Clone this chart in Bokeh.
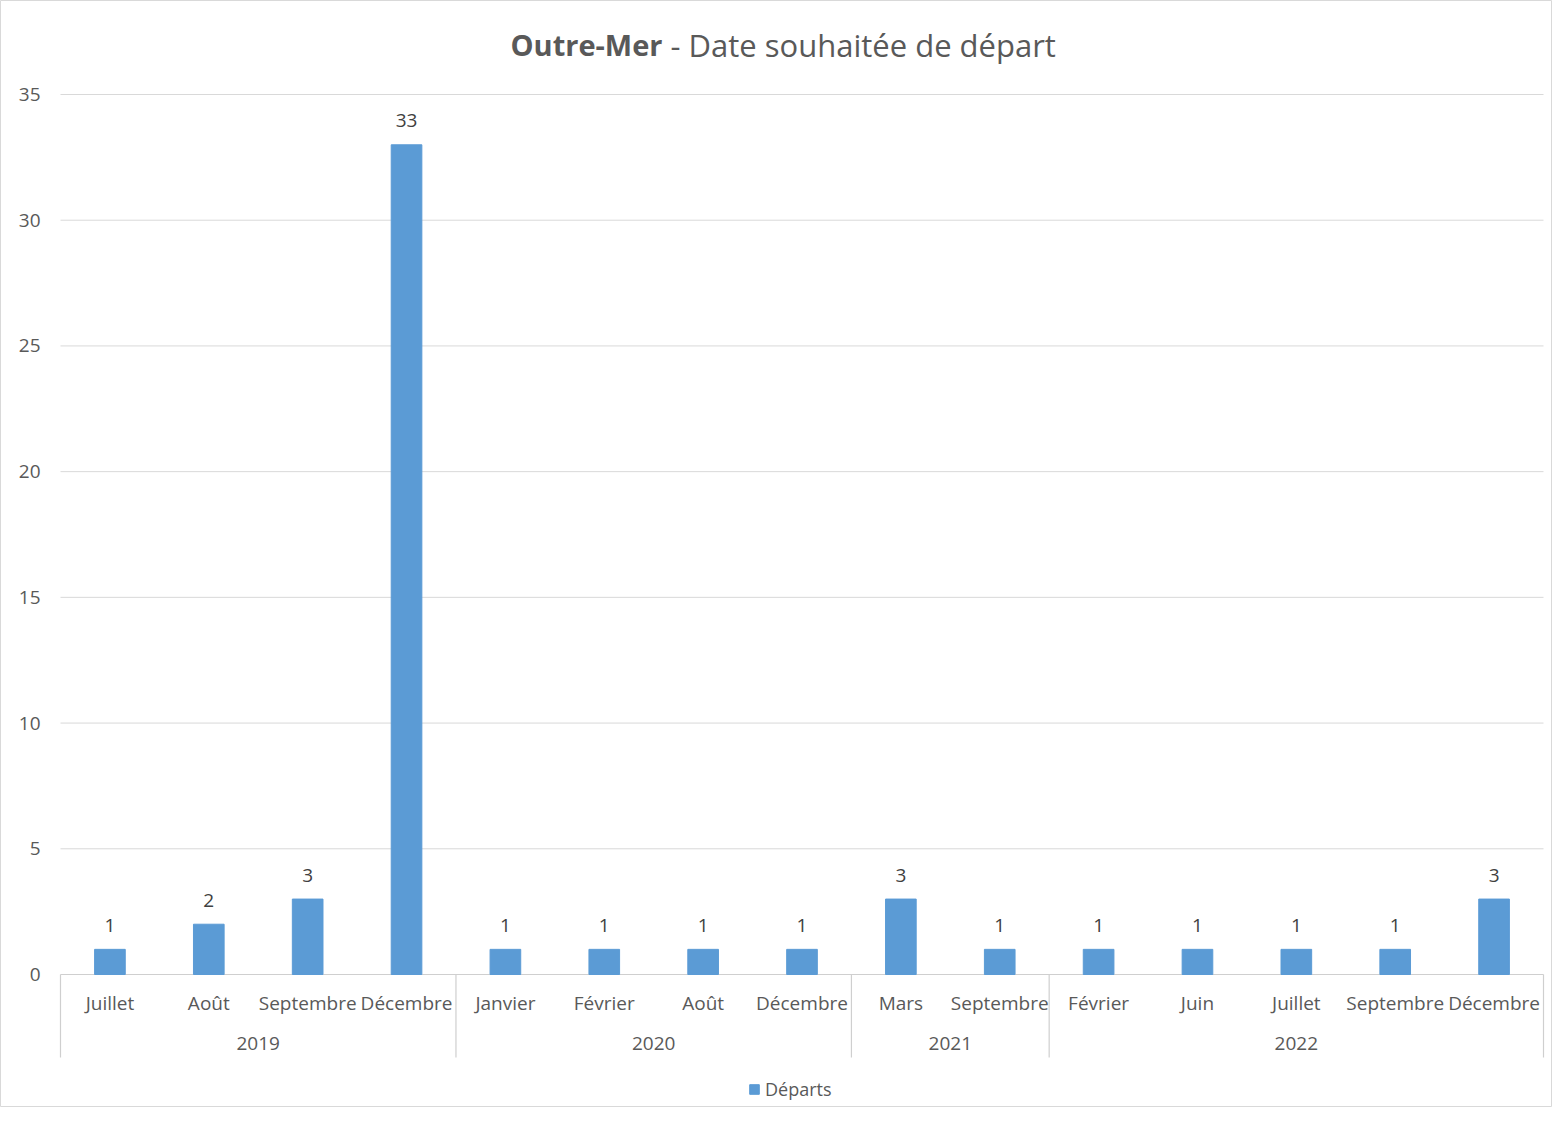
from bokeh.plotting import figure
from bokeh.models import Range1d, Legend, LegendItem, ColumnDataSource
from bokeh.core.properties import value
from bokeh.embed import file_html
from bokeh.resources import INLINE

# ---- data ----
years = ["2019", "2020", "2021", "2022"]
months_2019 = ["Juillet", "Août", "Septembre", "Décembre"]
months_2020 = ["Janvier", "Février", "Août", "Décembre"]
months_2021 = ["Mars", "Septembre"]
months_2022 = ["Février", "Juin", "Juillet", "Septembre", "Décembre"]
departs_2019 = [1, 2, 3, 33]
departs_2020 = [1, 1, 1, 1]
departs_2021 = [3, 1]
departs_2022 = [1, 1, 1, 1, 3]
y_ticks = [0, 5, 10, 15, 20, 25, 30, 35]
series_name = "Départs"

groups = [months_2019, months_2020, months_2021, months_2022]
vals_groups = [departs_2019, departs_2020, departs_2021, departs_2022]
months = [m for g in groups for m in g]
values = [v for g in vals_groups for v in g]
n = len(months)
xs = [i + 0.5 for i in range(n)]
bounds = [0]
for g in groups:
    bounds.append(bounds[-1] + len(g))
year_x = [(bounds[i] + bounds[i + 1]) / 2 for i in range(len(years))]

# ---- layout (pixels) ----
W, H = 1552, 1107
X0_PX = 60.0
CAT_PX = (1543.0 - 60.0) / n
Y0_PX = 974.0
UNIT_PX = (974.0 - 94.0) / 35.0

FONT = "Open Sans"
TXT = "#595959"
GRID = "#D9D9D9"
BAR = "#5B9BD5"
FS = "19px"

p = figure(width=W, height=H, output_backend="svg", toolbar_location=None,
           x_range=Range1d(-X0_PX / CAT_PX, (W - X0_PX) / CAT_PX),
           y_range=Range1d(-(H - Y0_PX) / UNIT_PX, Y0_PX / UNIT_PX),
           min_border=0)
p.xaxis.visible = False
p.yaxis.visible = False
p.xgrid.visible = False
p.ygrid.visible = False
p.outline_line_color = GRID
p.background_fill_color = "white"
p.border_fill_color = "white"

# gridlines
grid_y = [t for t in y_ticks if t > 0]
p.segment(x0=[0] * len(grid_y), x1=[n] * len(grid_y), y0=grid_y, y1=grid_y,
          line_color=GRID, line_width=1)
# axis line
p.segment(x0=[0], x1=[n], y0=[0], y1=[0], line_color="#CFCFCF", line_width=1.2)
# group separators
drop = 83.0 / UNIT_PX
p.segment(x0=bounds, x1=bounds, y0=[0] * len(bounds), y1=[-drop] * len(bounds),
          line_color="#CFCFCF", line_width=1.2)

# bars
src = ColumnDataSource(dict(x=xs, top=values, lab=[str(v) for v in values], month=months))
bars = p.vbar(x="x", top="top", width=0.31, source=src, fill_color=BAR, line_color=BAR)

# value labels
p.text(x="x", y="top", text="lab", source=src, text_align="center", text_baseline="middle",
       y_offset=-24, text_font=value(FONT), text_font_size=FS, text_color="#404040")

# category labels
p.text(x="x", y=0, text="month", source=src, text_align="center", text_baseline="middle",
       y_offset=28, text_font=value(FONT), text_font_size=FS, text_color=TXT)

# year labels
p.text(x=year_x, y=[0] * len(years), text=years, text_align="center", text_baseline="middle",
       y_offset=69, text_font=value(FONT), text_font_size=FS, text_color=TXT)

# y tick labels
p.text(x=[0] * len(y_ticks), y=y_ticks, text=[str(t) for t in y_ticks], text_align="right",
       text_baseline="middle", x_offset=-20, text_font=value(FONT), text_font_size=FS,
       text_color=TXT)

# title
title_y = (Y0_PX - 44.0) / UNIT_PX
split_x = (662.0 - X0_PX) / CAT_PX
p.text(x=[split_x], y=[title_y], text=["Outre-Mer"], text_align="right", text_baseline="middle",
       text_font=value(FONT), text_font_size="29px", text_font_style="bold", text_color=TXT)
p.text(x=[split_x], y=[title_y], text=["- Date souhaitée de départ"], text_align="left",
       text_baseline="middle", x_offset=8, text_font=value(FONT), text_font_size="31px",
       text_color=TXT)

legend = Legend(items=[LegendItem(label=series_name, renderers=[bars])],
                location=(748, 6), orientation="horizontal",
                border_line_alpha=0, background_fill_alpha=0,
                glyph_width=12, glyph_height=12, label_standoff=5,
                label_text_font=FONT, label_text_font_size="18px", label_text_color=TXT,
                padding=0, margin=0)
p.add_layout(legend)

open("out.html", "w").write(file_html(p, INLINE))
